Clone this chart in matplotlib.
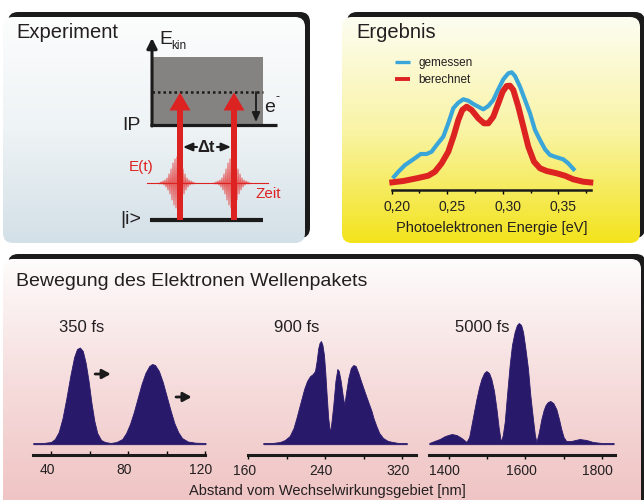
import numpy as np
import matplotlib
matplotlib.use('Agg')
import matplotlib.pyplot as plt
import matplotlib.transforms as mtransforms
from matplotlib.patches import FancyBboxPatch, Rectangle, FancyArrow
from matplotlib.colors import LinearSegmentedColormap

plt.rcParams['font.family'] = ['Liberation Sans', 'DejaVu Sans']

# --- Ergebnis: Photoelektronenspektrum (Energie in eV, Intensitaet in w.E.)
gem_x = [0.2009, 0.2060, 0.2120, 0.2195, 0.2261, 0.2314, 0.2359, 0.2404, 0.2464,
         0.2509, 0.2554, 0.2599, 0.2644, 0.2689, 0.2734, 0.2779, 0.2824, 0.2869,
         0.2914, 0.2959, 0.3004, 0.3049, 0.3079, 0.3109, 0.3154, 0.3199, 0.3244,
         0.3289, 0.3334, 0.3379, 0.3424, 0.3484, 0.3543, 0.3588, 0.3648]
gem_y = [0.117, 0.183, 0.25, 0.307, 0.36, 0.36, 0.383, 0.45, 0.533,
         0.667, 0.817, 0.873, 0.907, 0.893, 0.86, 0.833, 0.807, 0.84,
         0.90, 1.007, 1.107, 1.167, 1.177, 1.14, 1.033, 0.90, 0.767,
         0.60, 0.50, 0.407, 0.35, 0.327, 0.307, 0.267, 0.193]
ber_x = [0.1979, 0.2105, 0.2225, 0.2329, 0.2389, 0.2449, 0.2509, 0.2560, 0.2599,
         0.2635, 0.2674, 0.2719, 0.2779, 0.2830, 0.2869, 0.2914, 0.2959, 0.2998,
         0.3034, 0.3064, 0.3094, 0.3139, 0.3184, 0.3229, 0.3280, 0.3334, 0.3394,
         0.3484, 0.3558, 0.3633, 0.3723, 0.3813]
ber_y = [0.073, 0.09, 0.117, 0.143, 0.183, 0.267, 0.383, 0.55, 0.70,
         0.80, 0.833, 0.80, 0.717, 0.667, 0.667, 0.733, 0.867, 0.983,
         1.04, 1.043, 1.0, 0.833, 0.633, 0.433, 0.283, 0.217, 0.19,
         0.167, 0.143, 0.107, 0.083, 0.073]
e_ticks = [0.20, 0.25, 0.30, 0.35]
e_minor = [0.225, 0.275, 0.325, 0.375]
e_labels = ['0,20', '0,25', '0,30', '0,35']

# --- Wellenpakete (Abstand in nm, Dichte in w.E.)
p350_x = [30.8, 36, 40, 42, 44, 46, 48, 50, 52, 53.5, 55, 56.5, 58, 59.5, 61, 62.5,
          64, 66, 68, 71, 74, 77, 79, 81, 83, 85, 87, 89, 91, 92.5, 94, 96, 98, 100,
          102, 104, 106, 108, 111, 115, 120.2]
p350_y = [0, 0, 0.01, 0.04, 0.11, 0.25, 0.45, 0.67, 0.86, 0.94, 0.955, 0.92, 0.80,
          0.62, 0.40, 0.22, 0.10, 0.03, 0.01, 0, 0.01, 0.04, 0.10, 0.19, 0.31, 0.45,
          0.59, 0.70, 0.77, 0.79, 0.78, 0.72, 0.61, 0.47, 0.33, 0.20, 0.11, 0.05,
          0.015, 0.003, 0]
p900_x = [175.6, 185, 193, 198, 203, 207, 210, 213, 215.5, 218, 221, 224, 227, 229.3,
          231, 232.7, 234, 235.5, 237, 238.6, 240, 241.4, 243, 244.9, 246.5, 248.3,
          250.5, 252.5, 254, 256, 258, 259.7, 261.5, 263.9, 266.5, 269.1, 271.5,
          274.3, 277, 279.5, 282, 285, 288, 290, 293, 296, 300, 305, 310, 316, 324.6]
p900_y = [0, 0, 0.01, 0.03, 0.07, 0.15, 0.25, 0.36, 0.45, 0.54, 0.62, 0.667, 0.69,
          0.72, 0.82, 0.95, 1.0, 1.02, 0.98, 0.88, 0.70, 0.48, 0.25, 0.10, 0.22,
          0.38, 0.62, 0.74, 0.72, 0.62, 0.48, 0.38, 0.50, 0.65, 0.75, 0.78, 0.77,
          0.70, 0.62, 0.55, 0.48, 0.40, 0.32, 0.25, 0.17, 0.10, 0.05, 0.02, 0.01, 0, 0]
p5000_x = [1348.6, 1362, 1376, 1390, 1407, 1420, 1433, 1446, 1453, 1459, 1466, 1472,
           1479, 1485, 1492, 1498, 1505, 1511, 1518, 1524.5, 1530, 1536, 1541, 1546,
           1552, 1559, 1565, 1572, 1578, 1583, 1589, 1594, 1600, 1607, 1613, 1620,
           1625, 1629, 1635, 1642, 1648, 1653, 1659, 1665.5, 1673, 1681, 1688, 1694,
           1700, 1707, 1720, 1742, 1760, 1777, 1800, 1831]
p5000_y = [0, 0.02, 0.04, 0.07, 0.09, 0.08, 0.05, 0.01, 0.06, 0.18, 0.32, 0.44,
           0.56, 0.64, 0.70, 0.72, 0.70, 0.64, 0.52, 0.34, 0.16, 0.01, 0.08, 0.21,
           0.48, 0.78, 0.98, 1.11, 1.18, 1.20, 1.18, 1.11, 0.95, 0.74, 0.48, 0.24,
           0.08, 0.01, 0.10, 0.24, 0.33, 0.38, 0.41, 0.42, 0.40, 0.34, 0.24, 0.14,
           0.06, 0.02, 0.02, 0.04, 0.03, 0.01, 0, 0]
zeiten = ['350 fs', '900 fs', '5000 fs']

# Laserpuls E(t), Auslenkung je Pixel um die Pulsmitte
puls = [0, 1, -1, 1, -2, 2, -3, 4, -5, 7, -9, 11, -14, 17, -20, 22, -24, 25, -26,
        25, -24, 22, -20, 17, -14, 11, -9, 7, -5, 4, -3, 2, -2, 1, -1, 1, 0]

W, H = 644, 500
DARK = '#1b1b1b'
TXT = '#231f20'
NAVY = '#29196b'
RED = '#dd2222'

fig = plt.figure(figsize=(6.44, 5.0), dpi=100)
bg = fig.add_axes([0, 0, 1, 1])
bg.axis('off')


def rect(x0, y0, x1, y1):
    return [x0 / W, 1 - y1 / H, (x1 - x0) / W, (y1 - y0) / H]


def panel(x0, y0, x1, y1, colors):
    sh = FancyBboxPatch((x0 + 5, y0 - 5), x1 - x0, y1 - y0,
                        boxstyle='round,pad=0,rounding_size=10', fc=DARK, ec='none', zorder=1)
    bg.add_patch(sh)
    box = FancyBboxPatch((x0, y0), x1 - x0, y1 - y0,
                         boxstyle='round,pad=0,rounding_size=10', fc='none', ec='none', zorder=2)
    bg.add_patch(box)
    cmap = LinearSegmentedColormap.from_list('g', colors)
    grad = np.linspace(0, 1, 256).reshape(-1, 1)
    im = bg.imshow(grad, cmap=cmap, extent=(x0, x1, y1, y0), aspect='auto',
                   origin='upper', zorder=2)
    im.set_clip_path(box)


panel(3, 17, 305, 243, ['#fcfdfd', '#eef3f5', '#d3e0e7'])
panel(342, 17, 640, 243, ['#fdfdf2', '#f9f4a6', '#f3e31c'])
panel(3, 259, 641, 510, ['#fefcfc', '#f6dcdc', '#efc2c2'])

# ---------------- Experiment (Schema)
bg.text(16, 32, 'Experiment', fontsize=14.5, color=TXT, va='center', zorder=5)
bg.add_patch(Rectangle((152.7, 56.7), 110, 68.3, fc='#858282', ec='none', zorder=3))
bg.plot([152, 263], [92, 92], ls=(0, (1, 1.2)), lw=1.8, color=DARK, zorder=4)
bg.plot([150, 277], [125, 125], lw=2.3, color=DARK, solid_capstyle='butt', zorder=4)
bg.plot([150, 263], [220, 220], lw=3, color=DARK, solid_capstyle='butt', zorder=4)
bg.annotate('', xy=(152, 38), xytext=(152, 126), zorder=4,
            arrowprops=dict(arrowstyle='-|>,head_width=0.3,head_length=0.6', lw=2.2,
                            color=DARK, shrinkA=0, shrinkB=0, mutation_scale=10))
bg.text(159, 39, 'E', fontsize=14, color=TXT, va='center', zorder=5)
bg.text(171, 46, 'kin', fontsize=8.5, color=TXT, va='center', zorder=5)
bg.annotate('', xy=(256, 122), xytext=(256, 92), zorder=4,
            arrowprops=dict(arrowstyle='-|>,head_width=0.3,head_length=0.7', lw=1.3,
                            color=DARK, shrinkA=0, shrinkB=0, mutation_scale=8))
bg.text(264, 108, 'e', fontsize=14, color=TXT, va='center', zorder=5)
bg.text(276, 97, '-', fontsize=9, color=TXT, va='center', zorder=5)
bg.text(141, 125, 'IP', fontsize=14, color=TXT, va='center', ha='right', zorder=5)
bg.text(141, 219, '|i>', fontsize=14, color=TXT, va='center', ha='right', zorder=5)

# Pulse
for xc in [177, 232]:
    xs = np.arange(len(puls)) - len(puls) // 2 + xc
    bg.plot(xs, 183 + np.array(puls), color='#e65a5a', lw=0.7, zorder=3)
bg.plot([147, 268], [183, 183], color=RED, lw=0.8, zorder=3)
for xa in [180, 234]:
    bg.add_patch(FancyArrow(xa, 220, 0, -127.5, width=6, head_width=21, head_length=18,
                            length_includes_head=True, color=RED, ec='none', zorder=6))
bg.annotate('', xy=(183, 147), xytext=(197, 147), zorder=4,
            arrowprops=dict(arrowstyle='-|>,head_width=0.3,head_length=0.7', lw=1.5,
                            color=DARK, shrinkA=0, shrinkB=0, mutation_scale=8))
bg.annotate('', xy=(231, 147), xytext=(217, 147), zorder=4,
            arrowprops=dict(arrowstyle='-|>,head_width=0.3,head_length=0.7', lw=1.5,
                            color=DARK, shrinkA=0, shrinkB=0, mutation_scale=8))
bg.text(206, 147, '\u0394t', fontsize=12, fontweight='bold', color=TXT,
        ha='center', va='center', zorder=5)
bg.text(141, 167, 'E(t)', fontsize=11, color=RED, ha='center', va='center', zorder=5)
bg.text(268, 194, 'Zeit', fontsize=11, color=RED, ha='center', va='center', zorder=5)

# ---------------- Ergebnis
bg.text(356, 33, 'Ergebnis', fontsize=14.5, color=TXT, va='center', zorder=5)
ax_e = fig.add_axes(rect(391.7, 60, 590.7, 190))
ax_e.set_facecolor('none')
ax_e.plot(gem_x, gem_y, color='#3aa5d8', lw=3.0, label='gemessen', clip_on=False,
          solid_capstyle='butt')
ax_e.plot(ber_x, ber_y, color=RED, lw=4.3, label='berechnet', clip_on=False,
          solid_capstyle='butt')
ax_e.set_xlim(0.20, 0.379)
ax_e.set_ylim(0, 1.3)
for s in ['top', 'left', 'right']:
    ax_e.spines[s].set_visible(False)
ax_e.spines['bottom'].set_linewidth(1.8)
ax_e.spines['bottom'].set_color(DARK)
ax_e.set_yticks([])
ax_e.set_xticks(e_ticks)
ax_e.set_xticks(e_minor, minor=True)
ax_e.set_xticklabels(e_labels, fontsize=10, color=TXT)
ax_e.tick_params(axis='x', which='major', direction='out', length=3, width=1, pad=4.5)
ax_e.tick_params(axis='x', which='minor', direction='out', length=2.2, width=1)
off = mtransforms.ScaledTranslation(5 / 100, 0, fig.dpi_scale_trans)
for lab in ax_e.get_xticklabels():
    lab.set_transform(lab.get_transform() + off)
leg = ax_e.legend(loc='upper left', bbox_to_anchor=(395 / W, 1 - 57 / H),
                  bbox_transform=fig.transFigure, frameon=False, fontsize=8.5,
                  handlelength=1.25, handletextpad=0.75, labelspacing=0.45,
                  borderpad=0, borderaxespad=0)
for ln, w in zip(leg.get_lines(), [2.4, 2.8]):
    ln.set_linewidth(w)
for t in leg.get_texts():
    t.set_color(TXT)
bg.text(491.7, 227.7, 'Photoelektronen Energie [eV]', fontsize=10.5, color=TXT,
        ha='center', va='center', zorder=5)

# ---------------- Bewegung des Elektronen Wellenpakets
bg.text(16, 282, 'Bewegung des Elektronen Wellenpakets', fontsize=14, color=TXT,
        va='center', zorder=5)
specs = [
    (p350_x, p350_y, (33.3, 205.5), (30.8, 120.2), [40, 80, 120], [60, 100], 'in'),
    (p900_x, p900_y, (248.3, 416), (160, 334.2), [160, 240, 320], [200, 280], 'out'),
    (p5000_x, p5000_y, (429.3, 615), (1348.6, 1834.7), [1400, 1600, 1800], [1500, 1700], 'out'),
]
axes = []
for xs, ys, (px0, px1), xl, maj, mnr, dr in specs:
    ax = fig.add_axes(rect(px0, 315, px1, 455))
    ax.set_facecolor('none')
    ax.fill_between(xs, -0.012, ys, color=NAVY, lw=0.6, ec=NAVY)
    ax.set_xlim(*xl)
    ax.set_ylim(-0.12, 1.28)
    for s in ['top', 'left', 'right']:
        ax.spines[s].set_visible(False)
    ax.spines['bottom'].set_linewidth(2.2)
    ax.spines['bottom'].set_color(DARK)
    ax.set_yticks([])
    ax.set_xticks(maj)
    ax.set_xticks(mnr, minor=True)
    ax.set_xticklabels([str(v) for v in maj], fontsize=10, color=TXT)
    pad = 6 if dr == 'in' else 3.5
    ax.tick_params(axis='x', which='both', direction=dr, length=3, width=1, pad=pad)
    offb = mtransforms.ScaledTranslation(-4 / 100, 0, fig.dpi_scale_trans)
    for lab in ax.get_xticklabels():
        lab.set_transform(lab.get_transform() + offb)
    axes.append(ax)

for (x, y), txt in zip([(82, 327), (296.7, 327), (482, 327)], zeiten):
    bg.text(x, y, txt, fontsize=12, color=TXT, ha='center', va='center', zorder=5)

ax1 = axes[0]
for (xa, xb, yv) in [(62.9, 71.0, 0.69), (104.9, 113.0, 0.46)]:
    ax1.annotate('', xy=(xb, yv), xytext=(xa, yv),
                 arrowprops=dict(arrowstyle='-|>,head_width=0.3,head_length=0.55', lw=2.0,
                                 color=DARK, shrinkA=0, shrinkB=0, mutation_scale=9))

bg.text(327, 491, 'Abstand vom Wechselwirkungsgebiet [nm]', fontsize=10.5, color=TXT,
        ha='center', va='center', zorder=5)

bg.set_xlim(0, W)
bg.set_ylim(H, 0)
fig.savefig('out.png', dpi=100)
